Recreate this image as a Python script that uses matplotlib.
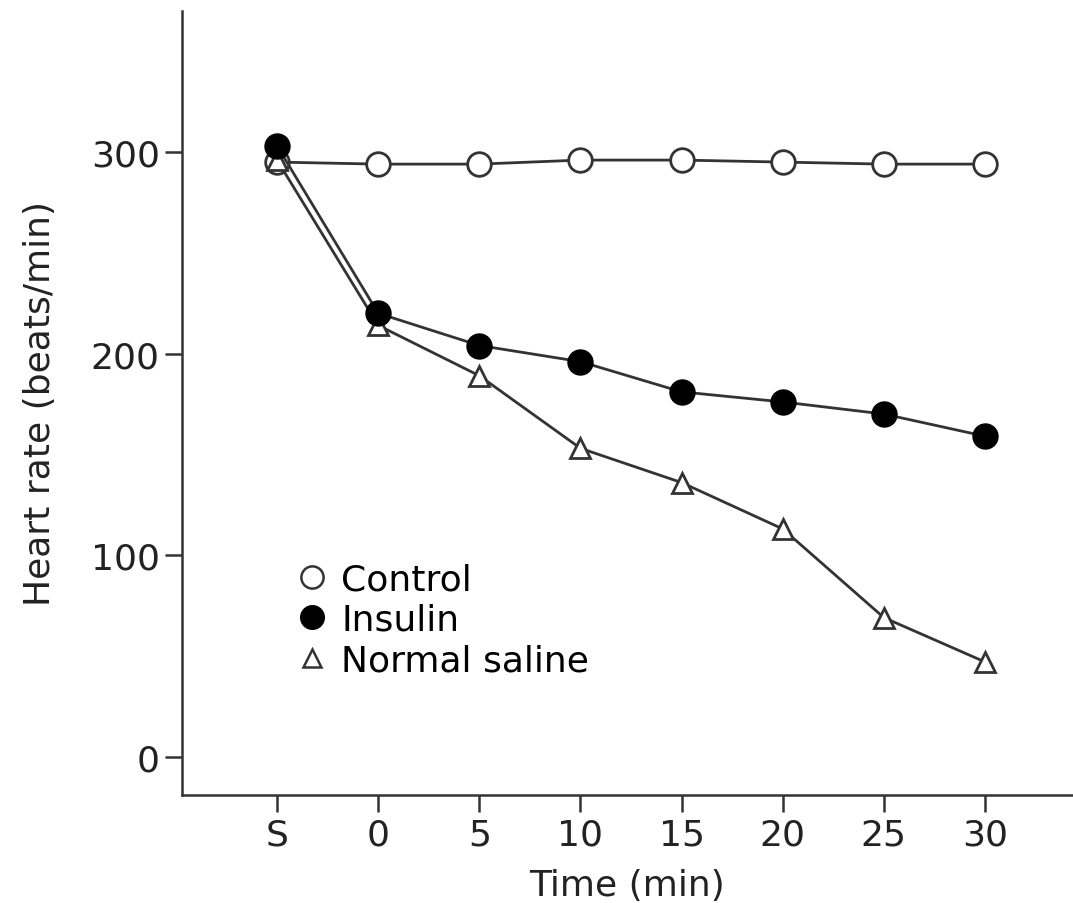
import matplotlib.pyplot as plt
from matplotlib.lines import Line2D

'''Heart rate over time for control, insulin and normal saline groups'''

time_labels = ['S', '0', '5', '10', '15', '20', '25', '30']
control = [295, 294, 294, 296, 296, 295, 294, 294]
insulin = [303, 220, 204, 196, 181, 176, 170, 159]
saline = [296, 214, 189, 153, 136, 113, 69, 47]

plt.rcParams['font.family'] = ['DejaVu Sans']
fs = 26
lc = '#333333'

fig = plt.figure(figsize=(10.73, 9.04), dpi=100)
ax = fig.add_axes([0.1696, 0.1195, 0.8304, 0.8673])

x = list(range(len(time_labels)))

ax.plot(x, control, color=lc, lw=2, marker='o', ms=17, mfc='white', mec=lc, mew=2, zorder=3)
ax.plot(x, saline, color=lc, lw=2, marker='^', ms=15, mfc='white', mec=lc, mew=2, zorder=3)
ax.plot(x, insulin, color=lc, lw=2, marker='o', ms=18, mfc='black', mec='black', mew=1, zorder=4)

ax.set_xlim(-0.94, 7.87)
ax.set_ylim(-19, 370)
ax.set_xticks(x)
ax.set_xticklabels(time_labels)
ax.set_yticks([0, 100, 200, 300])

for s in ['top', 'right']:
    ax.spines[s].set_visible(False)
for s in ['left', 'bottom']:
    ax.spines[s].set_linewidth(1.8)
    ax.spines[s].set_color(lc)

ax.tick_params(axis='both', length=12, width=1.8, color=lc, labelsize=fs, labelcolor='#222222', pad=4)

ax.set_xlabel('Time (min)', fontsize=fs, color='#222222', labelpad=12)
ax.set_ylabel('Heart rate (beats/min)', fontsize=fs, color='#222222', labelpad=24)

handles = [
    Line2D([], [], linestyle='none', marker='o', ms=16, mfc='white', mec=lc, mew=1.8),
    Line2D([], [], linestyle='none', marker='o', ms=17, mfc='black', mec='black'),
    Line2D([], [], linestyle='none', marker='^', ms=13, mfc='white', mec=lc, mew=1.8),
]
ax.legend(handles, ['Control', 'Insulin', 'Normal saline'], frameon=False,
          loc='upper left', bbox_to_anchor=(0.11, 0.315), fontsize=fs,
          handlelength=1.0, handletextpad=0.3, labelspacing=0.18, borderaxespad=0)

fig.savefig('out.png', dpi=100, facecolor='white')
